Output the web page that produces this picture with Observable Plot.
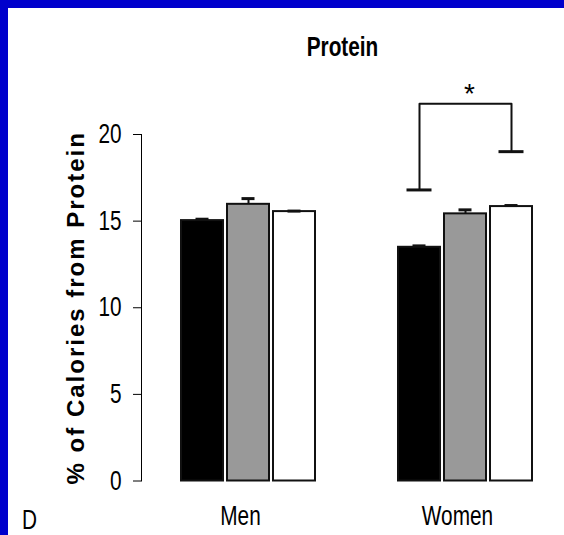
<!DOCTYPE html>
<html>
<head>
<meta charset="utf-8">
<script src="https://cdn.jsdelivr.net/npm/d3@7"></script>
<script src="https://cdn.jsdelivr.net/npm/@observablehq/plot@0.6"></script>
<style>
  html, body { margin: 0; padding: 0; background: #fff; }
  body { width: 564px; height: 535px; overflow: hidden; position: relative; }
  #chart { position: absolute; left: 0; top: 0; }
  .edge { position: absolute; background: #0000cc; }
  #title { position: absolute; left: 243px; width: 200px; top: 34px; text-align: center;
           font: bold 27px/27px "Liberation Sans", Arial, sans-serif; color: #000; }
  #panel { position: absolute; left: 22px; top: 507px;
           font: 27px/27px "Liberation Sans", Arial, sans-serif; color: #000; }
  .narrow { display: inline-block; transform: scaleX(0.77); transform-origin: center; }
  #panel .narrow { transform-origin: left; }
  svg text { font-family: "Liberation Sans", Arial, sans-serif; fill: #000; }
  g[aria-label="y-axis tick label"] text, g[aria-label="fx-axis tick label"] text { font-size: 27px; }
  g[aria-label="y-axis label"] text { font-family: "Liberation Sans", Arial, sans-serif; font-weight: bold; font-size: 24px; letter-spacing: 2px; }
</style>
</head>
<body>
<div id="chart"></div>
<div id="title"><span class="narrow"></span></div>
<div id="panel"><span class="narrow"></span></div>
<div class="edge" style="left:0;top:0;width:564px;height:8px"></div>
<div class="edge" style="left:0;top:0;width:8px;height:535px"></div>
<script>
// ---- data ----
const titleText = "Protein";
const panelLetter = "D";
const yLabel = "% of Calories from Protein";
const groups = ["Men", "Women"];
const conditions = ["Group 1", "Group 2", "Group 3"];
const fills = ["#000000", "#999999", "#ffffff"];
const menMeans = [15.03, 15.97, 15.55];
const menSE = [0.08, 0.33, 0.03];
const womenMeans = [13.49, 15.42, 15.84];
const womenSE = [0.08, 0.23, 0.06];
const yTicks = [0, 5, 10, 15, 20];
const bracketGroup = "Women";
const bracketFrom = "Group 1";
const bracketTo = "Group 3";
const bracketTop = 21.77;
const bracketFromEnd = 16.8;
const bracketToEnd = 19.01;
const bracketMark = "*";
const bracketMarkAt = "Group 2";

document.querySelector("#title .narrow").textContent = titleText;
document.querySelector("#panel .narrow").textContent = panelLetter;

const allMeans = [menMeans, womenMeans];
const allSE = [menSE, womenSE];
const data = groups.flatMap((g, i) => conditions.map((c, j) => ({
  group: g, condition: c, mean: allMeans[i][j], se: allSE[i][j]
})));
const bracket = [
  {group: bracketGroup, condition: bracketFrom, y: bracketFromEnd},
  {group: bracketGroup, condition: bracketFrom, y: bracketTop},
  {group: bracketGroup, condition: bracketTo, y: bracketTop},
  {group: bracketGroup, condition: bracketTo, y: bracketToEnd}
];
const bracketEnds = [bracket[0], bracket[3]];

const chart = Plot.plot({
  width: 564,
  height: 535,
  marginTop: 134,
  marginBottom: 54.5,
  marginLeft: 140,
  marginRight: 0,
  fx: {domain: groups, paddingInner: 0.051, paddingOuter: 0, label: null},
  x: {domain: conditions, paddingInner: 0.08, paddingOuter: 0.74, align: 0.562, axis: null},
  y: {domain: [0, 20], ticks: yTicks, tickSize: 8, tickPadding: 12, line: true,
      label: yLabel, labelAnchor: "center", labelOffset: 75, labelArrow: false},
  color: {domain: conditions, range: fills},
  marks: [
    Plot.axisFx({anchor: "bottom", tickSize: 0, tickPadding: 25, label: null, dx: -4}),
    Plot.barY(data, {fx: "group", x: "condition", y: "mean", fill: "condition", stroke: "#111", strokeWidth: 2}),
    Plot.ruleX(data, {fx: "group", x: "condition", y1: "mean", y2: d => d.mean + d.se, stroke: "#111", strokeWidth: 2}),
    Plot.tickY(data, {fx: "group", x: "condition", y: d => d.mean + d.se, stroke: "#111", strokeWidth: 3, insetLeft: 14.5, insetRight: 14.5}),
    Plot.line(bracket, {fx: "group", x: "condition", y: "y", stroke: "#111", strokeWidth: 2, curve: "linear"}),
    Plot.tickY(bracketEnds, {fx: "group", x: "condition", y: "y", stroke: "#111", strokeWidth: 3, insetLeft: 8.5, insetRight: 8.5}),
    Plot.text([{group: bracketGroup, condition: bracketMarkAt, y: bracketTop}],
              {fx: "group", x: "condition", y: "y", text: () => bracketMark, fontSize: 28, lineAnchor: "bottom", dx: 4, dy: -1})
  ]
});
document.getElementById("chart").appendChild(chart);

// condense the plain-font tick labels to match the narrow face of the original
chart.querySelectorAll('g[aria-label="y-axis tick label"] text, g[aria-label="fx-axis tick label"] text').forEach(el => {
  const len = el.getComputedTextLength();
  el.setAttribute("textLength", (len * 0.77).toFixed(1));
  el.setAttribute("lengthAdjust", "spacingAndGlyphs");
});
</script>
</body>
</html>
